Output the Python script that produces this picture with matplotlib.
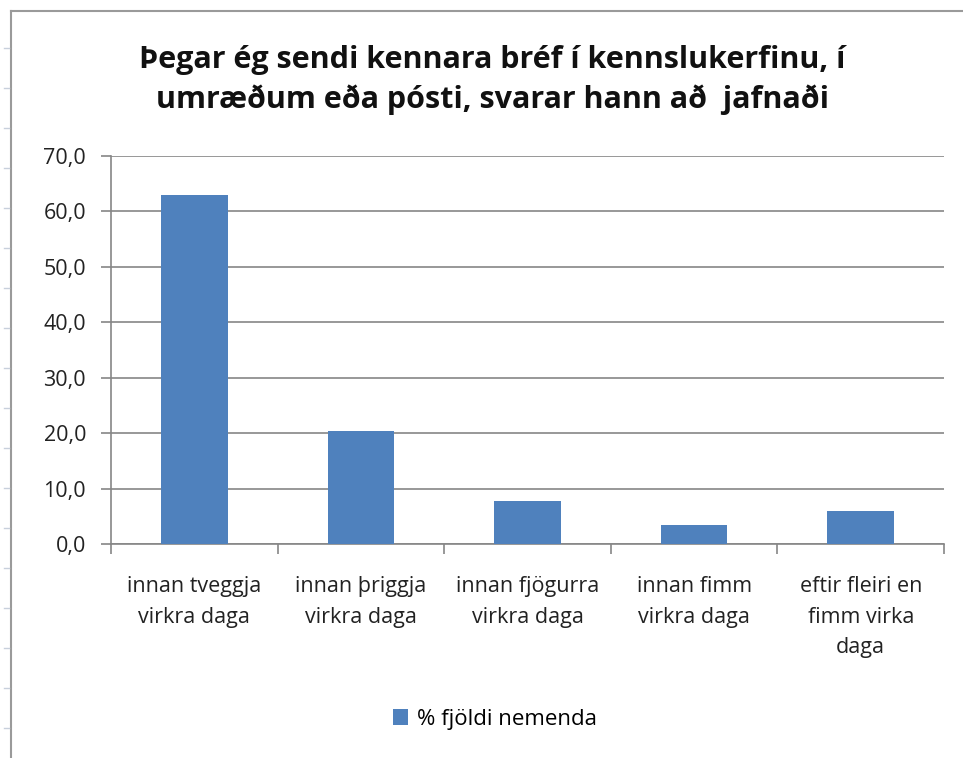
import matplotlib.pyplot as plt
from matplotlib.lines import Line2D
from matplotlib.patches import Patch

categories = [
    "innan tveggja\nvirkra daga",
    "innan þriggja\nvirkra daga",
    "innan fjögurra\nvirkra daga",
    "innan fimm\nvirkra daga",
    "eftir fleiri en\nfimm virka\ndaga",
]
values = [63.0, 20.3, 7.8, 3.4, 6.0]
y_ticks = [0, 10, 20, 30, 40, 50, 60, 70]
series_name = "% fjöldi nemenda"
title = "Þegar ég sendi kennara bréf í kennslukerfinu, í\numræðum eða pósti, svarar hann að  jafnaði"

plt.rcParams["font.family"] = ["Open Sans", "DejaVu Sans"]
bar_color = "#4F81BD"
grid_color = "#868686"

fig = plt.figure(figsize=(9.63, 7.58), dpi=100)
ax = fig.add_axes([111 / 963, 1 - 544 / 758, (944 - 111) / 963, (544 - 156) / 758])

x = range(len(categories))
ax.bar(x, values, width=0.4, color=bar_color, zorder=3)
ax.set_xlim(-0.5, len(categories) - 0.5)
ax.set_ylim(0, 70)
ax.set_yticks(y_ticks)
ax.set_yticklabels([f"{v:.1f}".replace(".", ",") for v in y_ticks], fontsize=15.5, color="#222222")
ax.yaxis.grid(True, color=grid_color, linewidth=1.2, zorder=0)

ax.set_xticks([i - 0.5 for i in range(len(categories) + 1)])
ax.set_xticklabels([])
ax.set_xticks(list(x), minor=True)
ax.set_xticklabels(categories, minor=True, fontsize=15.5, color="#222222", linespacing=1.6, va="top")
ax.tick_params(axis="x", which="minor", length=0, pad=23)
ax.tick_params(axis="x", which="major", length=7, color=grid_color, width=1.2)
ax.tick_params(axis="y", length=7, color=grid_color, width=1.2, pad=11)

for side in ["top", "right"]:
    ax.spines[side].set_visible(False)
for side in ["left", "bottom"]:
    ax.spines[side].set_color(grid_color)
    ax.spines[side].set_linewidth(1.2)

fig.text(492 / 963, 1 - 80 / 758, title, ha="center", va="center", fontsize=22,
         fontweight="bold", linespacing=1.4, color="#111111")

handle = Patch(facecolor=bar_color, edgecolor="none")
fig.legend([handle], [series_name], loc="center", bbox_to_anchor=(495 / 963, 1 - 719 / 758),
           frameon=False, fontsize=16, handlelength=0.7, handleheight=0.7, handletextpad=0.4)

# chart frame and spreadsheet row marks on the left edge
fig.add_artist(Line2D([11 / 963, 11 / 963], [0, 1 - 11 / 758], color="#9a9a9a", linewidth=1.5))
fig.add_artist(Line2D([11 / 963, 1], [1 - 11 / 758, 1 - 11 / 758], color="#9a9a9a", linewidth=1.5))
for row_y in range(48, 758, 40):
    fig.add_artist(Line2D([4 / 963, 9 / 963], [1 - row_y / 758] * 2, color="#c8d0dc", linewidth=1))

fig.savefig("out.png", dpi=100)
